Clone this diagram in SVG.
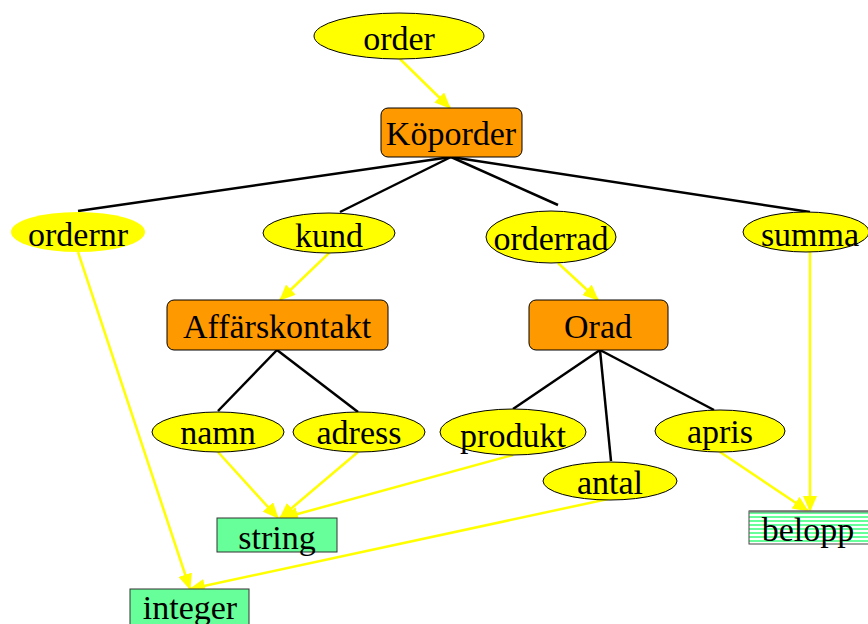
<svg xmlns="http://www.w3.org/2000/svg" width="868" height="624" viewBox="0 0 868 624">
  <style>
    text { font-family: "Liberation Serif", "Times New Roman", serif; font-size: 34px; fill: #000; text-anchor: middle; dominant-baseline: central; }
    .attr { fill: #ffff00; stroke: #000; stroke-width: 1; }
    .attr-plain { fill: #ffff00; stroke: none; }
    .entity { fill: #ff9900; stroke: #000; stroke-width: 1; }
    .type { fill: #66ff99; stroke: #333; stroke-width: 1; }
    .tree { stroke: #000; stroke-width: 2.5; fill: none; }
    .ref { stroke: #ffff00; stroke-width: 2.5; fill: none; marker-end: url(#head); }
  </style>
  <defs>
    <marker id="head" viewBox="0 0 16 14" refX="15" refY="7" markerWidth="16" markerHeight="14" markerUnits="userSpaceOnUse" orient="auto">
      <path d="M0,0 L16,7 L0,14 Z" fill="#ffff00"/>
    </marker>
    <pattern id="stripes" width="8" height="4" patternUnits="userSpaceOnUse">
      <rect width="8" height="4" fill="#ffffff"/>
      <rect width="8" height="2" fill="#66ff99"/>
    </pattern>
  </defs>

  <!-- connectors -->
  <g id="connectors">
    <line class="tree" x1="451" y1="157" x2="78" y2="211"/>
    <line class="tree" x1="451" y1="157" x2="340" y2="212"/>
    <line class="tree" x1="451" y1="157" x2="558" y2="205"/>
    <line class="tree" x1="451" y1="157" x2="810" y2="212"/>
    <line class="tree" x1="277" y1="350" x2="218" y2="411"/>
    <line class="tree" x1="277" y1="350" x2="358" y2="412"/>
    <line class="tree" x1="600" y1="350" x2="513" y2="409"/>
    <line class="tree" x1="600" y1="350" x2="611" y2="461"/>
    <line class="tree" x1="600" y1="350" x2="714" y2="410"/>

    <line class="ref" x1="400" y1="59" x2="450" y2="108"/>
    <line class="ref" x1="329" y1="253" x2="280" y2="300"/>
    <line class="ref" x1="558" y1="263" x2="598" y2="300"/>
    <line class="ref" x1="78" y1="252" x2="190" y2="589"/>
    <line class="ref" x1="218" y1="452" x2="278" y2="518"/>
    <line class="ref" x1="358" y1="452" x2="280" y2="518"/>
    <line class="ref" x1="513" y1="455" x2="283" y2="518"/>
    <line class="ref" x1="608" y1="499" x2="190" y2="589"/>
    <line class="ref" x1="720" y1="452" x2="808" y2="511"/>
    <line class="ref" x1="810" y1="252" x2="810" y2="511"/>
  </g>

  <!-- nodes -->
  <g id="order"><ellipse class="attr" cx="399" cy="36" rx="85" ry="23"/><text x="399" y="38">order</text></g>
  <g id="koporder"><rect class="entity" x="381" y="108" width="141" height="49" rx="7"/><text x="451" y="133">Köporder</text></g>

  <g id="ordernr"><ellipse class="attr-plain" cx="78" cy="232" rx="67" ry="20"/><text x="78" y="234">ordernr</text></g>
  <g id="kund"><ellipse class="attr" cx="329" cy="233" rx="66" ry="20"/><text x="329" y="235">kund</text></g>
  <g id="orderrad"><ellipse class="attr" cx="551" cy="237" rx="65" ry="26"/><text x="551" y="238">orderrad</text></g>
  <g id="summa"><ellipse class="attr" cx="806" cy="232" rx="63" ry="20"/><text x="810" y="234">summa</text></g>

  <g id="affarskontakt"><rect class="entity" x="167" y="300" width="221" height="50" rx="7"/><text x="277" y="326">Affärskontakt</text></g>
  <g id="orad"><rect class="entity" x="529" y="300" width="139" height="50" rx="7"/><text x="598" y="326">Orad</text></g>

  <g id="namn"><ellipse class="attr" cx="218" cy="432" rx="66" ry="20"/><text x="218" y="432">namn</text></g>
  <g id="adress"><ellipse class="attr" cx="359" cy="432" rx="66" ry="20"/><text x="359" y="432">adress</text></g>
  <g id="produkt"><ellipse class="attr" cx="513" cy="432" rx="73" ry="23"/><text x="513" y="435">produkt</text></g>
  <g id="antal"><ellipse class="attr" cx="610" cy="481" rx="67" ry="19"/><text x="610" y="482">antal</text></g>
  <g id="apris"><ellipse class="attr" cx="720" cy="431" rx="65" ry="21"/><text x="720" y="431">apris</text></g>

  <g id="string"><rect class="type" x="217" y="518" width="120" height="34"/><text x="277" y="537">string</text></g>
  <g id="integer"><rect class="type" x="130" y="589" width="119" height="36"/><text x="190" y="607">integer</text></g>
  <g id="belopp">
    <rect x="749" y="511" width="120" height="33" fill="url(#stripes)" stroke="#444" stroke-width="1"/>
    <line x1="749" y1="511.5" x2="868" y2="511.5" stroke="#777" stroke-width="2"/>
    <text x="808" y="529">belopp</text>
  </g>
</svg>
